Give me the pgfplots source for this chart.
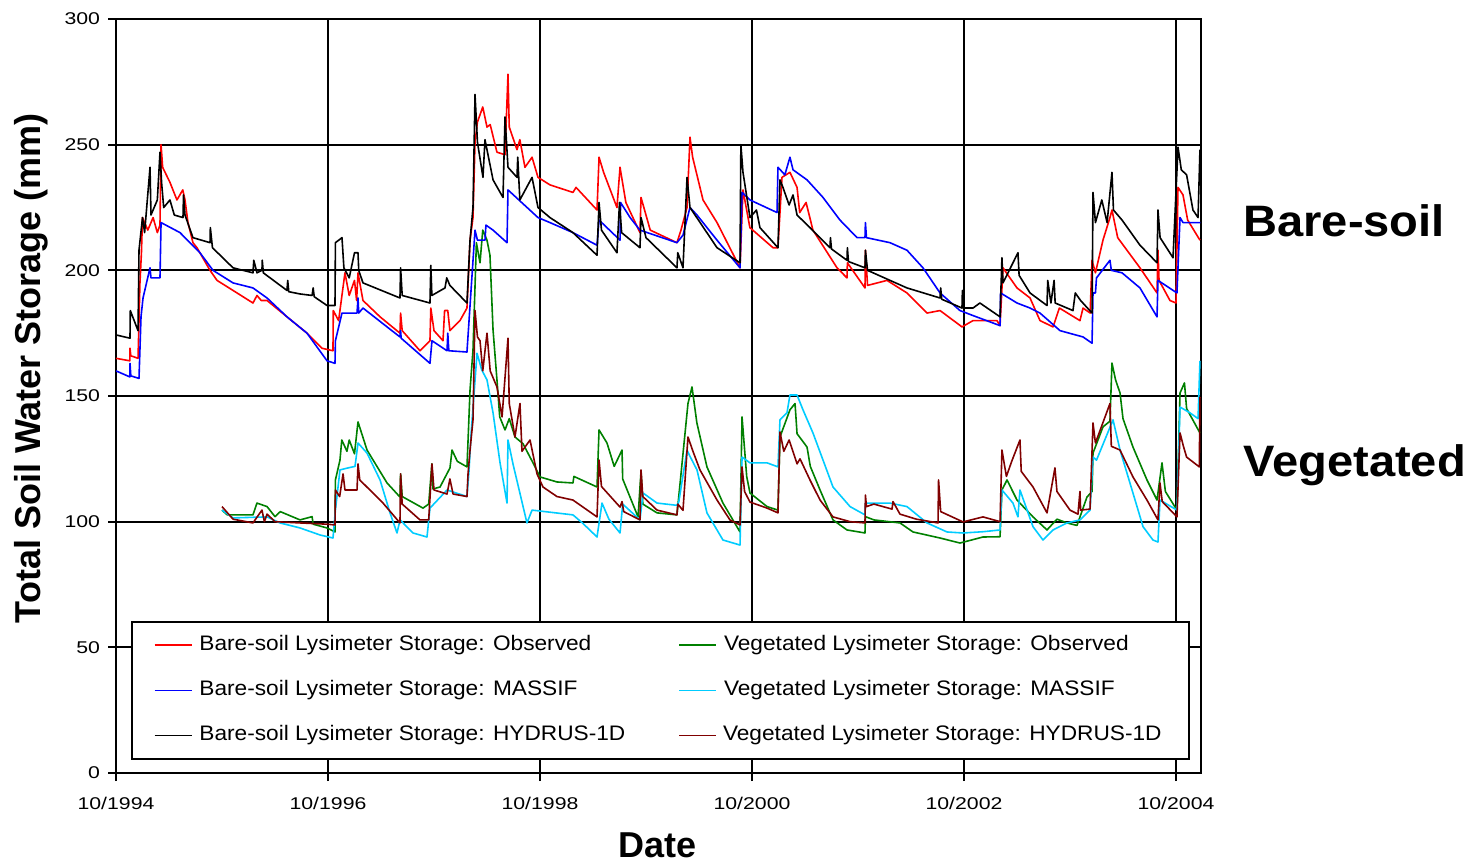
\documentclass[border=0pt]{standalone}
\usepackage{pgfplots}
\pgfplotsset{compat=1.18}
\usepackage{fontspec}
\setmainfont{Liberation Sans}
\newfontfamily\tickfont[FakeStretch=1.25]{Liberation Sans}
\newfontfamily\legfont[FakeStretch=1.08]{Liberation Sans}
\newfontfamily\bigfont[FakeStretch=1.07]{Liberation Sans}
\definecolor{vcyan}{RGB}{0,204,255}
\definecolor{vgreen}{RGB}{0,128,0}
\definecolor{vdred}{RGB}{128,0,0}
\begin{document}
\begin{tikzpicture}
\path[use as bounding box] (-58pt,-44.5pt) rectangle (682.5pt,386.5pt);
\begin{axis}[
  at={(0pt,0pt)}, anchor=south west,
  scale only axis, width=542.5pt, height=377pt,
  xmin=1994.75, xmax=2004.986, ymin=0, ymax=300,
  xtick={1994.75,1996.75,1998.75,2000.75,2002.75,2004.75},
  xticklabels={10/1994,10/1996,10/1998,10/2000,10/2002,10/2004},
  ytick={0,50,...,300},
  grid=major, major grid style={black, line width=0.9pt},
  axis line style={black, line width=0.9pt},
  tick style={black, line width=0.9pt},
  tick align=outside, major tick length=4pt,
  xtick pos=bottom, ytick pos=left,
  /pgf/number format/assume math mode=true,
  tick label style={font=\tickfont\fontsize{8.5}{9.5}\selectfont},
  xticklabel style={yshift=-4.5pt},
  yticklabel style={xshift=-0.5pt},
  xlabel={Date}, ylabel={Total Soil Water Storage (mm)},
  label style={font=\bfseries\fontsize{18}{20}\selectfont},
  xlabel style={at={(axis description cs:0.4995,-0.0955)}, anchor=center},
  ylabel style={at={(axis description cs:-0.0783,0.537)}, anchor=center},
  legend columns=2,
  legend cell align=left,
  legend style={at={(axis description cs:0.01382,0.2016)}, anchor=north west,
    draw=black, line width=0.8pt, fill=white, inner xsep=11pt, inner ysep=7pt,
    row sep=13pt, column sep=0pt, font=\legfont\fontsize{10.5}{12}\selectfont,
    nodes={inner sep=0pt, text height=7.5pt, text depth=2pt}},
  legend image code/.code={\draw[#1, line width=0.8pt] (0pt,0pt) -- (18.5pt,0pt);},
  every axis plot/.append style={line width=0.8pt, line join=round},
]
% Bare-soil observed
\addplot[red] coordinates {
(1994.75,165) (1994.88,164) (1994.882,169) (1994.89,166) (1994.958,165) (1994.976,195) (1994.99,207) (1995.00,221) (1995.05,216) (1995.10,221) (1995.14,215) (1995.165,218) (1995.175,250) (1995.19,241) (1995.259,235) (1995.325,228) (1995.38,232) (1995.401,228) (1995.429,219) (1995.476,211) (1995.514,209) (1995.637,200) (1995.703,196) (1995.892,191) (1996.042,187) (1996.08,190) (1996.12,188) (1996.175,188) (1996.363,181.5) (1996.552,175) (1996.693,169) (1996.797,168) (1996.80,184) (1996.85,180) (1996.91,199) (1996.95,190) (1997.00,196) (1997.02,188) (1997.033,199) (1997.08,188) (1997.241,181.5) (1997.429,175) (1997.435,183) (1997.45,176) (1997.618,168) (1997.712,172) (1997.72,185) (1997.75,176) (1997.835,172) (1997.85,184) (1997.88,184) (1997.90,176) (1997.995,180) (1998.061,185) (1998.09,212) (1998.118,221) (1998.137,251) (1998.16,259) (1998.21,265) (1998.25,257) (1998.28,258) (1998.344,247) (1998.42,246) (1998.448,278) (1998.46,257) (1998.533,248) (1998.56,252) (1998.608,241) (1998.675,245) (1998.731,237) (1998.844,234) (1999.061,231) (1999.09,233) (1999.288,224) (1999.307,245) (1999.35,239) (1999.476,225) (1999.505,241) (1999.56,227) (1999.693,215) (1999.703,229) (1999.79,216) (2000.042,211) (2000.08,216) (2000.137,225) (2000.165,253) (2000.19,245) (2000.288,228) (2000.420,219) (2000.637,201) (2000.665,232) (2000.73,217) (2000.948,209) (2000.995,209) (2001.033,237) (2001.108,239) (2001.175,233) (2001.20,223) (2001.26,227) (2001.325,216) (2001.552,201) (2001.646,197) (2001.65,203) (2001.816,193) (2001.82,208) (2001.84,194) (2002.024,196) (2002.212,191) (2002.401,183) (2002.524,184) (2002.731,177.5) (2002.835,180) (2003.061,180) (2003.09,178) (2003.118,201) (2003.15,199) (2003.25,193) (2003.373,189) (2003.467,180) (2003.590,177.5) (2003.65,185) (2003.844,180) (2003.873,185) (2003.94,183) (2003.958,204) (2003.99,199) (2004.061,212) (2004.127,221) (2004.146,224) (2004.20,213) (2004.410,201) (2004.571,191) (2004.58,208) (2004.59,196) (2004.693,188) (2004.75,187) (2004.769,233) (2004.816,230) (2004.86,220) (2004.976,212)
};
\addlegendentry{\hspace*{3.5pt}\makebox[239.5pt][l]{Bare-soil Lysimeter Storage: Observed}}
% Vegetated observed
\addplot[vgreen] coordinates {
(1995.75,104.6) (1995.80,102.7) (1996.042,102.7) (1996.08,107.4) (1996.175,106) (1996.25,102) (1996.30,104) (1996.486,100.7) (1996.60,102) (1996.61,99) (1996.741,97.5) (1996.816,95.9) (1996.82,116.6) (1996.863,124.5) (1996.88,132.5) (1996.929,128) (1996.95,132.5) (1997.0,127) (1997.033,139.7) (1997.118,128.5) (1997.307,115.4) (1997.429,109.8) (1997.435,119) (1997.45,110) (1997.646,105.4) (1997.70,107) (1997.73,123) (1997.74,113) (1997.807,113.8) (1997.901,121.4) (1997.92,128.5) (1997.97,124) (1998.061,121.8) (1998.07,131) (1998.09,152.4) (1998.118,168.3) (1998.15,211) (1998.184,203) (1998.21,216) (1998.25,212) (1998.278,206) (1998.307,176.3) (1998.344,156.4) (1998.37,141.7) (1998.42,136.5) (1998.46,141) (1998.514,133.7) (1998.59,131) (1998.684,123.4) (1998.75,117.8) (1998.910,115.8) (1999.061,115.4) (1999.07,118) (1999.288,113.8) (1999.307,136.5) (1999.382,131.3) (1999.45,122) (1999.524,128.5) (1999.53,117) (1999.675,101.9) (1999.703,120) (1999.72,107) (1999.854,103.5) (2000.042,102.7) (2000.146,147) (2000.184,153.6) (2000.23,139.3) (2000.325,121.8) (2000.476,107.4) (2000.637,95.9) (2000.656,141.7) (2000.70,118) (2000.731,111.4) (2000.892,106) (2000.995,104.6) (2001.014,133.7) (2001.108,144.5) (2001.156,147) (2001.175,135) (2001.269,129.7) (2001.30,122) (2001.392,112.6) (2001.514,100.7) (2001.646,96.7) (2001.816,95.5) (2001.82,102) (2001.90,100.7) (2002.146,99.5) (2002.269,95.9) (2002.524,93.5) (2002.712,91.5) (2002.929,93.9) (2003.090,94) (2003.108,112.6) (2003.156,116.6) (2003.25,108.6) (2003.401,101.9) (2003.533,96.7) (2003.627,101) (2003.722,99.5) (2003.816,98.5) (2003.910,109.8) (2003.958,112) (2003.967,127.3) (2004.061,137.7) (2004.127,140) (2004.146,163.1) (2004.18,156.4) (2004.222,151.2) (2004.25,141) (2004.344,129.7) (2004.476,116.6) (2004.571,108.6) (2004.618,123.4) (2004.65,112) (2004.759,104.6) (2004.788,151.2) (2004.83,155.2) (2004.85,145) (2004.976,135.3)
};
\addlegendentry{\hspace*{3.5pt}\makebox[221.5pt][l]{Vegetated Lysimeter Storage: Observed}}
% Bare-soil MASSIF
\addplot[blue] coordinates {
(1994.75,160) (1994.88,157.6) (1994.882,163) (1994.89,158) (1994.967,157) (1994.986,181.5) (1995.005,189) (1995.071,201) (1995.08,197) (1995.165,197) (1995.175,219) (1995.354,215) (1995.542,207) (1995.665,200) (1995.854,195) (1996.042,193) (1996.175,189) (1996.363,181.5) (1996.552,175) (1996.741,164) (1996.816,163) (1996.82,172) (1996.882,183) (1997.024,183) (1997.033,189) (1997.04,183) (1997.08,185) (1997.307,177.5) (1997.429,173.5) (1997.435,176) (1997.44,173) (1997.712,163) (1997.731,172) (1997.873,168) (1997.88,175) (1997.89,168) (1998.061,167.5) (1998.137,216) (1998.16,212) (1998.231,212) (1998.24,218) (1998.307,216) (1998.439,211) (1998.448,232) (1998.731,221) (1998.844,219) (1999.061,215) (1999.288,210) (1999.307,220) (1999.505,212) (1999.51,227) (1999.60,221) (1999.693,216) (2000.042,211) (2000.099,214) (2000.165,225) (2000.231,222) (2000.420,212) (2000.637,201) (2000.656,231) (2000.731,228) (2000.986,223) (2000.995,241) (2001.06,238) (2001.108,245) (2001.137,240) (2001.269,236) (2001.420,229) (2001.580,220) (2001.741,213) (2001.816,213) (2001.82,219) (2001.83,213) (2002.052,211) (2002.212,208) (2002.363,201) (2002.524,191) (2002.712,184) (2002.835,182) (2003.090,178) (2003.095,191) (2003.25,187) (2003.373,185) (2003.467,183) (2003.656,176) (2003.873,173.5) (2003.958,171) (2003.967,191) (2003.99,191) (2004.0,197) (2004.127,204) (2004.14,200) (2004.241,199) (2004.410,193) (2004.571,181.5) (2004.58,196) (2004.759,191) (2004.788,221) (2004.816,219) (2004.958,219) (2004.98,219)
};
\addlegendentry{\hspace*{3.5pt}\makebox[239.5pt][l]{Bare-soil Lysimeter Storage: MASSIF}}
% Vegetated MASSIF
\addplot[vcyan] coordinates {
(1995.75,104.6) (1995.854,101.5) (1996.175,101.9) (1996.297,99.5) (1996.486,97.5) (1996.675,94.7) (1996.797,93.5) (1996.82,104.6) (1996.863,120.6) (1996.95,121.5) (1997.005,122) (1997.033,131.3) (1997.118,127.3) (1997.241,116.6) (1997.335,103.5) (1997.401,95.5) (1997.43,100.7) (1997.552,95.5) (1997.684,93.9) (1997.712,105.4) (1997.873,112.6) (1998.061,110) (1998.08,120) (1998.10,135) (1998.156,167) (1998.20,160.4) (1998.25,156.4) (1998.307,143.3) (1998.373,123.4) (1998.439,107.4) (1998.448,132.5) (1998.495,123) (1998.627,99.5) (1998.675,104.6) (1999.061,102.7) (1999.15,99.5) (1999.288,93.9) (1999.335,107.4) (1999.40,101) (1999.505,95.5) (1999.53,107) (1999.693,100.7) (1999.722,111.4) (1999.854,107.4) (2000.042,106.5) (2000.06,108) (2000.137,128.5) (2000.165,126) (2000.231,120.6) (2000.325,103.5) (2000.476,92.7) (2000.637,90.7) (2000.656,125.7) (2000.731,123.4) (2000.892,123.4) (2000.995,121.8) (2001.014,140.5) (2001.080,143.3) (2001.108,150.4) (2001.175,150.4) (2001.231,144.5) (2001.325,135.3) (2001.420,124.5) (2001.514,113.8) (2001.675,106) (2001.816,102.7) (2001.82,107.4) (2002.052,107.4) (2002.212,106) (2002.401,99.5) (2002.590,95.9) (2002.741,95.5) (2002.929,96) (2003.090,96.7) (2003.108,112.6) (2003.212,107.4) (2003.259,101.9) (2003.278,112.6) (2003.401,98) (2003.495,92.7) (2003.590,96.7) (2003.722,99.5) (2003.844,100.7) (2003.939,104.6) (2003.967,125.7) (2004.0,124.5) (2004.156,140.5) (2004.222,128.5) (2004.344,111.4) (2004.439,98) (2004.533,92.7) (2004.580,91.9) (2004.599,108.6) (2004.759,104.6) (2004.788,145.6) (2004.882,143.3) (2004.958,141) (2004.976,164)
};
\addlegendentry{\hspace*{3.5pt}\makebox[221.5pt][l]{Vegetated Lysimeter Storage: MASSIF}}
% Bare-soil HYDRUS-1D
\addplot[black] coordinates {
(1994.75,174.3) (1994.882,173) (1994.885,184) (1994.958,176) (1994.967,208) (1995.0,221) (1995.02,215) (1995.071,241) (1995.08,222) (1995.14,228) (1995.165,247) (1995.18,235) (1995.20,225) (1995.259,228) (1995.30,222) (1995.382,221) (1995.387,230) (1995.401,222) (1995.476,213) (1995.637,211) (1995.64,217) (1995.66,209) (1995.854,201) (1996.042,199) (1996.05,204) (1996.08,199) (1996.127,200) (1996.13,204) (1996.14,199) (1996.363,192) (1996.37,196) (1996.38,191.5) (1996.486,190.6) (1996.60,190) (1996.61,193) (1996.62,189.5) (1996.741,186) (1996.816,186) (1996.82,211) (1996.882,213) (1996.90,201) (1996.95,197) (1997.0,207) (1997.033,207) (1997.04,200) (1997.08,195) (1997.429,189) (1997.435,201) (1997.45,190) (1997.712,187) (1997.72,202) (1997.73,190) (1997.854,193) (1997.87,197) (1997.90,194) (1998.061,187) (1998.09,212) (1998.118,225) (1998.137,270) (1998.16,251) (1998.212,237) (1998.231,252) (1998.307,236) (1998.401,229) (1998.42,261) (1998.448,241) (1998.533,237) (1998.54,245) (1998.56,228) (1998.675,237) (1998.731,225) (1998.844,221) (1999.061,215) (1999.288,206) (1999.307,227) (1999.33,216) (1999.476,207) (1999.50,227) (1999.52,215) (1999.693,209) (1999.703,221) (1999.75,213) (2000.042,201) (2000.05,207) (2000.099,201) (2000.137,237) (2000.165,225) (2000.420,209) (2000.637,203) (2000.645,250) (2000.665,239) (2000.731,221) (2000.792,224) (2000.825,217) (2000.995,209) (2001.014,236) (2001.042,233) (2001.10,226) (2001.137,230) (2001.175,222) (2001.297,217) (2001.486,209) (2001.49,213) (2001.50,208.5) (2001.646,204) (2001.65,209) (2001.66,203.5) (2001.816,201) (2001.82,208) (2001.84,200) (2002.052,196) (2002.212,193) (2002.524,189) (2002.53,193) (2002.54,188.5) (2002.731,185) (2002.735,192) (2002.74,185) (2002.835,185) (2002.90,187) (2003.090,181.5) (2003.108,205) (2003.118,195) (2003.259,207) (2003.27,198) (2003.373,191) (2003.533,186) (2003.54,196) (2003.57,187) (2003.60,196) (2003.61,187) (2003.778,184) (2003.80,191) (2003.85,188) (2003.958,183) (2003.967,231) (2003.99,219) (2004.05,228) (2004.10,219) (2004.146,239) (2004.16,224) (2004.241,220) (2004.410,210) (2004.571,203) (2004.58,224) (2004.60,213) (2004.722,205) (2004.769,249) (2004.80,240) (2004.85,238) (2004.910,224) (2004.958,221) (2004.976,248)
};
\addlegendentry{\hspace*{3.5pt}\makebox[239.5pt][l]{Bare-soil Lysimeter Storage: HYDRUS-1D}}
% Vegetated HYDRUS-1D
\addplot[vdred] coordinates {
(1995.75,106) (1995.854,101) (1996.042,99.5) (1996.127,104.6) (1996.15,100) (1996.175,103) (1996.25,100) (1996.486,99.5) (1996.741,99) (1996.816,98.7) (1996.82,112.6) (1996.86,110) (1996.892,119) (1996.91,112.6) (1997.024,112.6) (1997.033,123) (1997.05,116.6) (1997.269,107.4) (1997.429,99.5) (1997.435,119) (1997.45,107) (1997.618,100.7) (1997.70,100.7) (1997.731,123) (1997.75,112.6) (1997.873,111) (1997.90,117) (1997.93,111) (1998.061,110) (1998.071,119) (1998.09,128.5) (1998.118,140.5) (1998.137,184) (1998.16,173.5) (1998.184,172) (1998.21,160) (1998.25,175) (1998.28,160) (1998.344,153.6) (1998.392,141.7) (1998.448,173) (1998.46,147) (1998.514,133.7) (1998.561,147) (1998.58,128) (1998.656,132.5) (1998.722,119) (1998.778,113.8) (1998.910,110) (1999.061,108.6) (1999.288,101.9) (1999.307,124.5) (1999.33,114) (1999.505,105.8) (1999.524,108) (1999.54,104) (1999.693,100.7) (1999.703,120.6) (1999.72,110) (1999.854,104.6) (2000.042,102.7) (2000.05,107) (2000.099,104.5) (2000.146,133.7) (2000.193,128) (2000.259,120.6) (2000.420,108.6) (2000.542,100.7) (2000.637,98.7) (2000.656,121.8) (2000.68,112) (2000.731,107.8) (2000.892,105.4) (2000.995,103.5) (2001.014,135.7) (2001.05,128) (2001.10,132.5) (2001.175,123) (2001.203,125) (2001.297,116.6) (2001.392,108.6) (2001.514,101.9) (2001.675,100) (2001.816,99.5) (2001.82,110.6) (2001.83,106) (2001.90,107) (2002.071,105) (2002.08,108) (2002.146,103) (2002.30,101) (2002.505,99.5) (2002.51,116.6) (2002.53,104) (2002.741,99.9) (2002.929,101.9) (2003.090,100) (2003.108,128.5) (2003.15,118) (2003.20,124) (2003.278,132.5) (2003.29,120) (2003.401,113.8) (2003.533,103.5) (2003.608,121.4) (2003.627,112) (2003.75,104.6) (2003.825,103) (2003.844,112) (2003.85,104.6) (2003.939,105) (2003.967,139.3) (2003.99,131.3) (2004.127,147) (2004.14,130) (2004.222,128.5) (2004.344,117.8) (2004.476,108.6) (2004.580,100.7) (2004.599,115.4) (2004.62,108) (2004.759,101.9) (2004.788,135.3) (2004.82,130) (2004.85,125.7) (2004.970,121.8) (2004.976,149.6)
};
\addlegendentry{\hspace*{3pt}\makebox[221.5pt][l]{Vegetated Lysimeter Storage: HYDRUS-1D}}
\end{axis}
\node[anchor=base west, inner sep=0pt, font=\bigfont\bfseries\fontsize{22}{24}\selectfont] at (563.5pt,268pt) {Bare-soil};
\node[anchor=base west, inner sep=0pt, font=\bigfont\bfseries\fontsize{22}{24}\selectfont] at (563.5pt,148.2pt) {Vegetated};
\end{tikzpicture}
\end{document}
